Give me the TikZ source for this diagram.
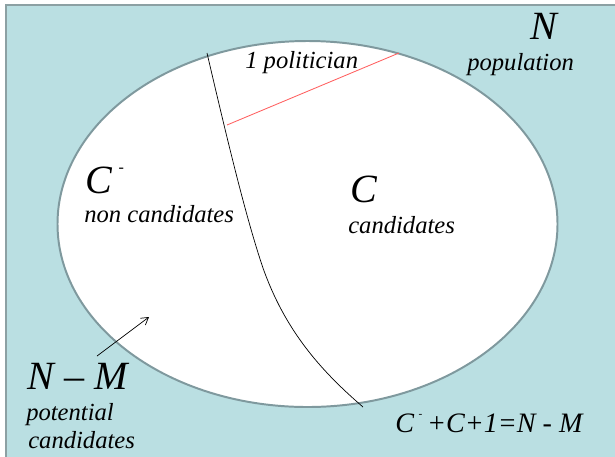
\documentclass[tikz,border=0pt]{standalone}
\usepackage{fontspec}
\setmainfont{Liberation Serif}
\newfontfamily\diagfont{Liberation Serif}[ItalicFont={Liberation Serif Italic}]
\usetikzlibrary{arrows.meta,positioning}

\definecolor{popfill}{RGB}{186,223,226}
\definecolor{popframe}{RGB}{140,160,163}
\definecolor{setline}{RGB}{127,153,158}
\definecolor{splitred}{RGB}{255,95,95}

% small raised bar used as the complement mark
\newcommand{\cbar}{\,\raisebox{0.52em}{\scalebox{0.4}{-}}\,}

\tikzset{
    bigsym/.style={anchor=base west,inner sep=0pt,font=\diagfont\fontsize{28.5}{30}\selectfont\itshape},
    smalltxt/.style={anchor=base west,inner sep=0pt,font=\diagfont\fontsize{17.5}{20}\selectfont\itshape},
    eqtxt/.style={anchor=base west,inner sep=0pt,font=\diagfont\fontsize{20}{22}\selectfont\itshape}
}

\begin{document}
\begin{tikzpicture}[x=0.025cm,y=-0.025cm]
    \useasboundingbox (0,0) rectangle (615,456);
    % Population
    \fill[popfill] (6,5) rectangle (620,460);
    \draw[popframe,line width=1.4pt] (6,460) -- (6,5) -- (620,5);
    \node[bigsym] (nsym) at (530,39) {N};
    \node[smalltxt] (poptxt) at (467,70) {population};

    % Potential candidates
    \fill[white] (307.5,224) ellipse (250 and 183);
    \draw[setline,line width=1.4pt] (307.5,224) ellipse (250 and 183);

    % Split between non candidates and candidates
    \coordinate (top) at (207,53);
    \coordinate (mid) at (263,268);
    \coordinate (bot) at (363,407);
    \draw[black,line width=0.5pt] (top) .. controls (225,130) and (245,215) .. (mid)
        .. controls (285,330) and (320,370) .. (bot);
    \coordinate (redA) at (227,125);
    \coordinate (redB) at (399,53);
    \draw[splitred,line width=0.6pt] (redA) -- (redB);
    \node[smalltxt] (pol) at (245,68) {1 politician};

    \node[bigsym] (cminus) at (85,193) {C\cbar};
    \node[smalltxt] (noncand) at (84,222) {non candidates};
    \node[bigsym] (cplus) at (350,202) {C};
    \node[smalltxt] (cand) at (348,233) {candidates};

    % N - M
    \node[bigsym] (nm) at (27,389) {N – M};
    \node[smalltxt] (pot) at (26,420) {potential};
    \node[smalltxt] (potcand) at (28,448) {candidates};
    \coordinate (arrA) at (97,356);
    \coordinate (arrB) at (149,317);
    \draw[line width=0.5pt,-{Straight Barb[length=5pt,width=6pt]}] (arrA) -- (arrB);

    \node[eqtxt] (sum) at (395,432) {C\cbar +C+1=N - M};
\end{tikzpicture}
\end{document}
